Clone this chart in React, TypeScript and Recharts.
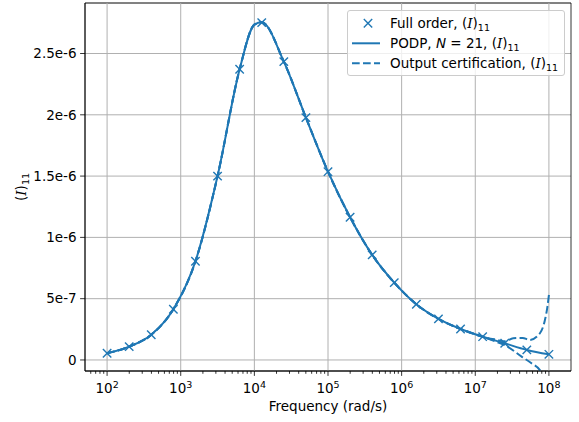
import React from 'react';
import { LineChart, Line, XAxis, YAxis, CartesianGrid, ReferenceLine, ReferenceArea, Legend } from 'recharts';

// ---- data (values in units of 1e-6) ----
const freqs = [100, 199.5, 398.1, 794.3, 1584.9, 3162.3, 6309.6, 12589, 25119, 50119, 100000, 199526, 398107, 794328, 1584893, 3162278, 6309573, 12589254, 25118864, 50118723, 100000000];
const fullOrder = [0.055, 0.109, 0.206, 0.414, 0.805, 1.5, 2.372, 2.752, 2.434, 1.977, 1.536, 1.164, 0.857, 0.631, 0.454, 0.335, 0.253, 0.19, 0.136, 0.082, 0.046];

const podpFreqs = [100, 199.5, 398.1, 794.3, 1584.9, 3162.3, 6309.6, 10000, 12589, 25119, 50119, 100000, 199526, 398107, 794328, 1584893, 3162278, 6309573, 12589254, 25118864, 50118723, 100000000];
const podpValues = [0.055, 0.109, 0.206, 0.414, 0.805, 1.5, 2.372, 2.735, 2.755, 2.434, 1.977, 1.536, 1.164, 0.857, 0.631, 0.454, 0.335, 0.253, 0.19, 0.136, 0.082, 0.046];

const upperFreqs = [100, 199.5, 398.1, 794.3, 1584.9, 3162.3, 6309.6, 10000, 12589, 25119, 50119, 100000, 199526, 398107, 794328, 1584893, 3162278, 6309573, 12589254, 19400000, 25118864, 32700000, 44000000, 55000000, 75500000, 88300000, 95500000, 100000000];
const upperValues = [0.055, 0.109, 0.206, 0.414, 0.805, 1.5, 2.372, 2.735, 2.755, 2.434, 1.977, 1.536, 1.164, 0.857, 0.631, 0.454, 0.335, 0.253, 0.19, 0.165, 0.152, 0.177, 0.18, 0.163, 0.218, 0.326, 0.435, 0.53];

const lowerFreqs = [100, 199.5, 398.1, 794.3, 1584.9, 3162.3, 6309.6, 10000, 12589, 25119, 50119, 100000, 199526, 398107, 794328, 1584893, 3162278, 6309573, 12589254, 19400000, 25118864, 42600000, 58000000, 77800000, 89000000, 100000000];
const lowerValues = [0.055, 0.109, 0.206, 0.414, 0.805, 1.5, 2.372, 2.735, 2.755, 2.434, 1.977, 1.536, 1.164, 0.857, 0.631, 0.454, 0.335, 0.253, 0.19, 0.148, 0.122, 0.027, -0.027, -0.095, -0.2, -0.4];

const xMajorTicks = [100, 1000, 10000, 100000, 1000000, 10000000, 100000000];
const xMajorExponents = ['2', '3', '4', '5', '6', '7', '8'];
const xMinorMultipliers = [2, 3, 4, 5, 6, 7, 8, 9];
const yTicks = [0, 5e-7, 1e-6, 1.5e-6, 2e-6, 2.5e-6];
const yTickLabels = ['0', '5e-7', '1e-6', '1.5e-6', '2e-6', '2.5e-6'];

const X_MIN = 50.1187;
const X_MAX = 199526.2 * 1000;
const Y_MIN = -0.09e-6;
const Y_MAX = 2.912e-6;

const xMinorTicks: number[] = [];
[10, ...xMajorTicks].forEach((d) => {
  xMinorMultipliers.forEach((m) => {
    const v = d * m;
    if (v > X_MIN && v < X_MAX) xMinorTicks.push(v);
  });
});
const allXTicks = [...xMajorTicks, ...xMinorTicks].sort((a, b) => a - b);

// merge into one table
const rowMap = new Map<number, any>();
const put = (fs: number[], vs: number[], key: string) => {
  fs.forEach((f, i) => {
    if (!rowMap.has(f)) rowMap.set(f, { f });
    rowMap.get(f)[key] = vs[i] * 1e-6;
  });
};
put(freqs, fullOrder, 'full');
put(podpFreqs, podpValues, 'podp');
put(upperFreqs, upperValues, 'upper');
put(lowerFreqs, lowerValues, 'lower');
const data = Array.from(rowMap.values()).sort((a, b) => a.f - b.f);

const BLUE = '#1f77b4';
const FONT = 'DejaVu Sans';
const FS = 13.5;

const XTick = (props: any) => {
  const { x, y, payload } = props;
  const idx = xMajorTicks.indexOf(payload.value);
  const major = idx >= 0;
  return (
    <g>
      <line x1={x} x2={x} y1={y} y2={y + (major ? 4.9 : 2.8)} stroke="#000" strokeWidth={0.8} />
      {major && (
        <text x={x} y={y + 21.7} textAnchor="middle" fontSize={FS} fontFamily={FONT} fill="#000">
          10<tspan dy={-5} fontSize={9.5}>{xMajorExponents[idx]}</tspan>
        </text>
      )}
    </g>
  );
};

const XMark = (props: any) => {
  const { cx, cy } = props;
  if (cx == null || cy == null || props.value == null) return null;
  const s = 4.2;
  return (
    <g>
      <line x1={cx - s} y1={cy - s} x2={cx + s} y2={cy + s} stroke={BLUE} strokeWidth={1.4} />
      <line x1={cx - s} y1={cy + s} x2={cx + s} y2={cy - s} stroke={BLUE} strokeWidth={1.4} />
    </g>
  );
};

const IItalic = () => <tspan fontFamily="DejaVu Serif" fontStyle="italic">I</tspan>;

const renderLegend = () => (
  <div style={{ width: 218, height: 66, boxSizing: 'border-box', border: '1px solid #cccccc', borderRadius: 3, background: 'rgba(255,255,255,0.8)' }}>
    <svg width={216} height={64} style={{ display: 'block' }}>
      <g transform="translate(-1,-1)">
        <line x1={16.8} y1={9.1} x2={25.2} y2={17.5} stroke={BLUE} strokeWidth={1.4} />
        <line x1={16.8} y1={17.5} x2={25.2} y2={9.1} stroke={BLUE} strokeWidth={1.4} />
        <line x1={5} y1={33.3} x2={33} y2={33.3} stroke={BLUE} strokeWidth={2} />
        <line x1={5} y1={53.3} x2={33} y2={53.3} stroke={BLUE} strokeWidth={2} strokeDasharray="7.7 3.3" />
        <text x={43} y={18} fontSize={FS} fontFamily={FONT} fill="#000">
          Full order, (<IItalic />)<tspan dy={3} fontSize={9.5}>11</tspan>
        </text>
        <text x={43} y={38} fontSize={FS} fontFamily={FONT} fill="#000">
          PODP, <tspan fontStyle="italic">N</tspan> = 21, (<IItalic />)<tspan dy={3} fontSize={9.5}>11</tspan>
        </text>
        <text x={43} y={58} fontSize={FS} fontFamily={FONT} fill="#000">
          Output certification, (<IItalic />)<tspan dy={3} fontSize={9.5}>11</tspan>
        </text>
      </g>
    </svg>
  </div>
);

const YLabel = () => (
  <text transform="translate(26,187) rotate(-90)" x={0} y={0} textAnchor="middle" fontSize={FS} fontFamily={FONT} fill="#000">
    (<IItalic />)<tspan dy={3} fontSize={9.5}>11</tspan>
  </text>
);

export default function App() {
  return (
    <div style={{ position: 'absolute', left: 0, top: 0, width: 579, height: 422, background: '#fff' }}>
      <LineChart width={579} height={422} data={data} margin={{ top: 3, right: 8, left: 0, bottom: 0 }} style={{ fontFamily: FONT }}>
        <CartesianGrid vertical={false} stroke="#b0b0b0" strokeWidth={1} />
        {xMajorTicks.map((v) => (
          <ReferenceLine key={v} x={v} stroke="#b0b0b0" strokeWidth={1} ifOverflow="visible" />
        ))}
        <XAxis
          dataKey="f"
          type="number"
          scale="log"
          domain={[X_MIN, X_MAX]}
          allowDataOverflow
          ticks={allXTicks}
          interval={0}
          tick={<XTick />}
          tickLine={false}
          tickSize={0}
          tickMargin={0}
          axisLine={{ stroke: '#000', strokeWidth: 0.8 }}
          height={51}
          label={{ value: 'Frequency (rad/s)', position: 'insideBottom', offset: 11, fontSize: FS, fill: '#000', fontFamily: FONT }}
        />
        <YAxis
          type="number"
          domain={[Y_MIN, Y_MAX]}
          allowDataOverflow
          ticks={yTicks}
          interval={0}
          width={85}
          tickSize={4.9}
          tickMargin={3.5}
          tickLine={{ stroke: '#000', strokeWidth: 0.8 }}
          axisLine={{ stroke: '#000', strokeWidth: 0.8 }}
          tick={{ fontSize: FS, fill: '#000', fontFamily: FONT }}
          tickFormatter={(v: number) => yTickLabels[yTicks.indexOf(v)] ?? ''}
          label={{ content: () => <YLabel /> }}
        />
        <ReferenceArea x1={X_MIN} x2={X_MAX} y1={Y_MIN} y2={Y_MAX} fill="none" stroke="#000" strokeWidth={0.8} ifOverflow="visible" />
        <Line dataKey="podp" stroke={BLUE} strokeWidth={2} dot={false} type="monotone" connectNulls isAnimationActive={false} />
        <Line dataKey="upper" stroke={BLUE} strokeWidth={2} strokeDasharray="7.7 3.3" dot={false} type="monotone" connectNulls isAnimationActive={false} />
        <Line dataKey="lower" stroke={BLUE} strokeWidth={2} strokeDasharray="7.7 3.3" dot={false} type="monotone" connectNulls isAnimationActive={false} />
        <Line dataKey="full" stroke="none" dot={<XMark />} activeDot={false} connectNulls isAnimationActive={false} />
        <Legend layout="vertical" align="center" verticalAlign="middle" wrapperStyle={{ top: 10, left: 347, width: 218, height: 66 }} content={renderLegend} />
      </LineChart>
    </div>
  );
}
